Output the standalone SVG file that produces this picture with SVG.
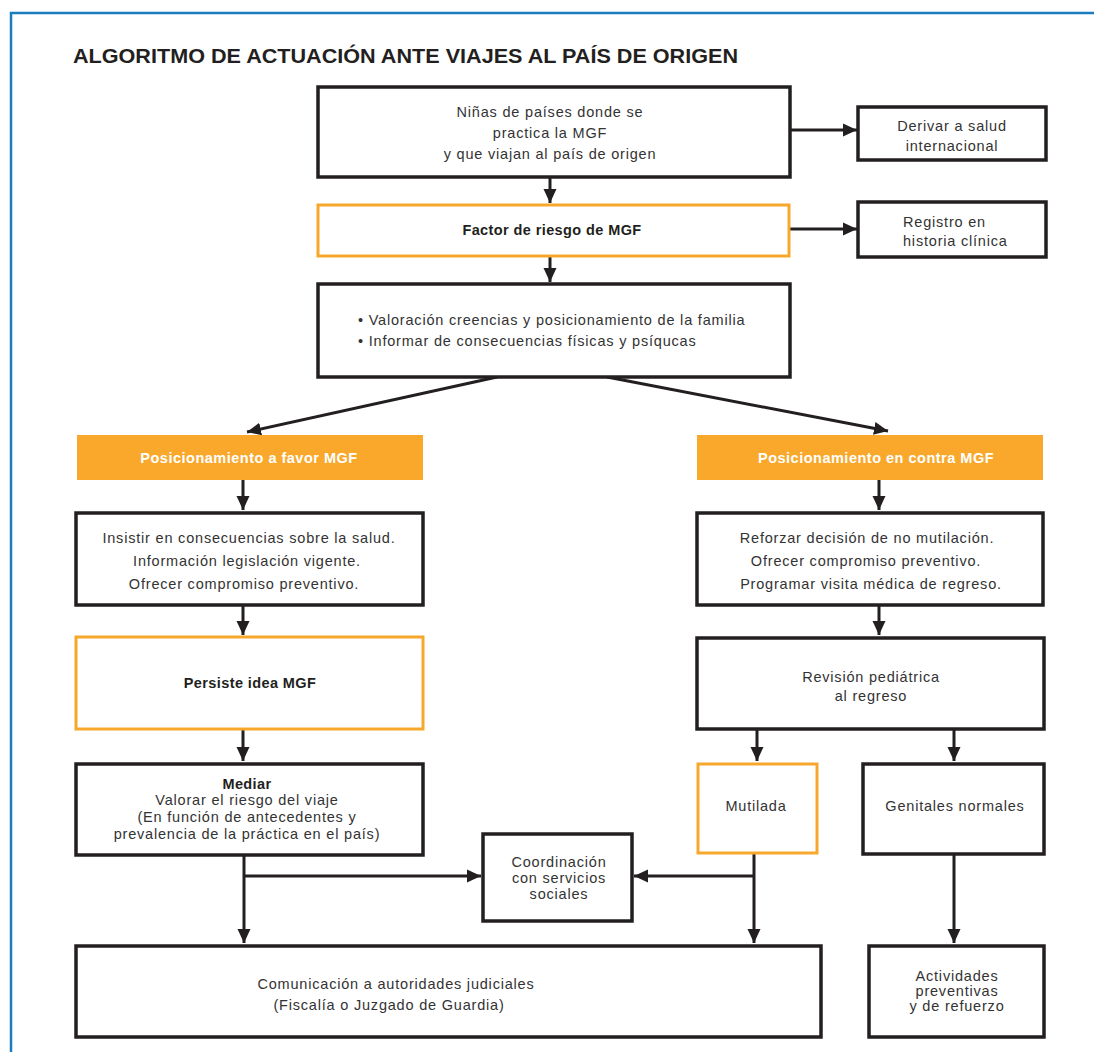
<svg xmlns="http://www.w3.org/2000/svg" width="1094" height="1052" viewBox="0 0 1094 1052">
<style>
.box{fill:#fff;stroke:#231f20;stroke-width:3.5}
.obox{fill:#fff;stroke:#f7a82c;stroke-width:3}
.ofill{fill:#f9a82b;stroke:none}
.t{font-family:"Liberation Sans",Arial,sans-serif;font-size:14.5px;fill:#333;letter-spacing:0.8px}
.b{font-family:"Liberation Sans",Arial,sans-serif;font-size:14.5px;font-weight:bold;fill:#231f20;letter-spacing:0.4px}
.w{font-family:"Liberation Sans",Arial,sans-serif;font-size:14.5px;font-weight:bold;fill:#fff;letter-spacing:0.5px}
.c{text-anchor:middle}
.ln{fill:none;stroke:#231f20;stroke-width:3}
</style>
<defs>
<marker id="ah" markerUnits="userSpaceOnUse" viewBox="0 0 14 14" refX="14" refY="7" markerWidth="14" markerHeight="14" orient="auto">
<path d="M0,0.5 L14,7 L0,13.5 z" fill="#231f20"/>
</marker>
</defs>
<rect width="1094" height="1052" fill="#fff"/>
<path d="M11,1052 V13 H1094" fill="none" stroke="#1b7dc0" stroke-width="2.5"/>
<text x="73" y="63" font-family="'Liberation Sans',Arial,sans-serif" font-size="21" font-weight="bold" fill="#231f20" textLength="665" lengthAdjust="spacingAndGlyphs">ALGORITMO DE ACTUACIÓN ANTE VIAJES AL PAÍS DE ORIGEN</text>

<g id="connectors">
<line class="ln" x1="550" y1="178" x2="550" y2="203" marker-end="url(#ah)"/>
<line class="ln" x1="790" y1="130" x2="857" y2="130" marker-end="url(#ah)"/>
<line class="ln" x1="790" y1="229" x2="857" y2="229" marker-end="url(#ah)"/>
<line class="ln" x1="550" y1="257" x2="550" y2="282" marker-end="url(#ah)"/>
<line class="ln" stroke-width="2.5" x1="497" y1="377" x2="247" y2="432" marker-end="url(#ah)"/>
<line class="ln" stroke-width="2.5" x1="607" y1="377" x2="888" y2="431" marker-end="url(#ah)"/>
<line class="ln" x1="243" y1="480" x2="243" y2="510" marker-end="url(#ah)"/>
<line class="ln" x1="879" y1="480" x2="879" y2="510" marker-end="url(#ah)"/>
<line class="ln" x1="243" y1="605" x2="243" y2="635" marker-end="url(#ah)"/>
<line class="ln" x1="879" y1="605" x2="879" y2="635" marker-end="url(#ah)"/>
<line class="ln" x1="243" y1="729" x2="243" y2="761" marker-end="url(#ah)"/>
<line class="ln" x1="757" y1="729" x2="757" y2="761" marker-end="url(#ah)"/>
<line class="ln" x1="954" y1="729" x2="954" y2="761" marker-end="url(#ah)"/>
<line class="ln" x1="244" y1="855" x2="244" y2="943" marker-end="url(#ah)"/>
<line class="ln" x1="244" y1="876" x2="481" y2="876" marker-end="url(#ah)"/>
<line class="ln" x1="754" y1="853" x2="754" y2="943" marker-end="url(#ah)"/>
<line class="ln" x1="754" y1="876" x2="634" y2="876" marker-end="url(#ah)"/>
<line class="ln" x1="954" y1="854" x2="954" y2="943" marker-end="url(#ah)"/>
</g>

<g id="n1">
<rect class="box" x="318" y="87" width="472" height="90"/>
<text class="t c" x="550" y="117">Niñas de países donde se</text>
<text class="t c" x="550" y="138">practica la MGF</text>
<text class="t c" x="550" y="159">y que viajan al país de  origen</text>
</g>
<g id="n_derivar">
<rect class="box" x="858" y="107" width="188" height="53"/>
<text class="t c" x="952" y="131">Derivar a salud</text>
<text class="t c" x="952" y="151">internacional</text>
</g>
<g id="n2">
<rect class="obox" x="318" y="205" width="471" height="51"/>
<text class="b c" x="552" y="235">Factor de riesgo de MGF</text>
</g>
<g id="n_registro">
<rect class="box" x="858" y="202" width="188" height="55"/>
<text class="t" x="903" y="227">Registro en</text>
<text class="t" x="903" y="246">historia clínica</text>
</g>
<g id="n3">
<rect class="box" x="318" y="284" width="472" height="93"/>
<text class="t" x="358" y="325">• Valoración creencias y posicionamiento de la familia</text>
<text class="t" x="358" y="346">• Informar de consecuencias físicas y psíqucas</text>
</g>
<g id="n_favor">
<rect class="ofill" x="77" y="435" width="346" height="45"/>
<text class="w c" x="249" y="463">Posicionamiento a favor MGF</text>
</g>
<g id="n_contra">
<rect class="ofill" x="697" y="435" width="346" height="45"/>
<text class="w c" x="876" y="463">Posicionamiento en contra MGF</text>
</g>
<g id="n_insistir">
<rect class="box" x="76" y="513" width="347" height="92"/>
<text class="t c" x="249" y="543">Insistir en consecuencias sobre la salud.</text>
<text class="t c" x="247" y="566">Información legislación vigente.</text>
<text class="t c" x="244" y="589">Ofrecer compromiso preventivo.</text>
</g>
<g id="n_reforzar">
<rect class="box" x="697" y="513" width="346" height="92"/>
<text class="t c" x="867" y="543">Reforzar decisión de no mutilación.</text>
<text class="t c" x="866" y="566">Ofrecer compromiso preventivo.</text>
<text class="t c" x="871" y="589">Programar visita médica de regreso.</text>
</g>
<g id="n_persiste">
<rect class="obox" x="76" y="637" width="347" height="92"/>
<text class="b c" x="250" y="688">Persiste idea MGF</text>
</g>
<g id="n_revision">
<rect class="box" x="697" y="638" width="347" height="91"/>
<text class="t c" x="871" y="682">Revisión pediátrica</text>
<text class="t c" x="871" y="701">al regreso</text>
</g>
<g id="n_mediar">
<rect class="box" x="76" y="764" width="347" height="91"/>
<text class="b c" x="247" y="789">Mediar</text>
<text class="t c" x="247" y="805">Valorar el riesgo del viaje</text>
<text class="t c" x="247" y="822">(En función de antecedentes y</text>
<text class="t c" x="247" y="839">prevalencia de la práctica en el país)</text>
</g>
<g id="n_mutilada">
<rect class="obox" x="698" y="764" width="119" height="89"/>
<text class="t c" x="756" y="811">Mutilada</text>
</g>
<g id="n_genitales">
<rect class="box" x="863" y="764" width="181" height="90"/>
<text class="t c" x="955" y="811">Genitales  normales</text>
</g>
<g id="n_coord">
<rect class="box" x="483" y="834" width="149" height="87"/>
<text class="t c" x="559" y="867">Coordinación</text>
<text class="t c" x="559" y="883">con servicios</text>
<text class="t c" x="559" y="899">sociales</text>
</g>
<g id="n_comunicacion">
<rect class="box" x="76" y="946" width="745" height="91"/>
<text class="t c" x="396" y="989">Comunicación a autoridades  judiciales</text>
<text class="t c" x="389" y="1010">(Fiscalía o Juzgado de Guardia)</text>
</g>
<g id="n_actividades">
<rect class="box" x="869" y="946" width="175" height="91"/>
<text class="t c" x="957" y="981">Actividades</text>
<text class="t c" x="957" y="996">preventivas</text>
<text class="t c" x="957" y="1011">y de refuerzo</text>
</g>
</svg>
